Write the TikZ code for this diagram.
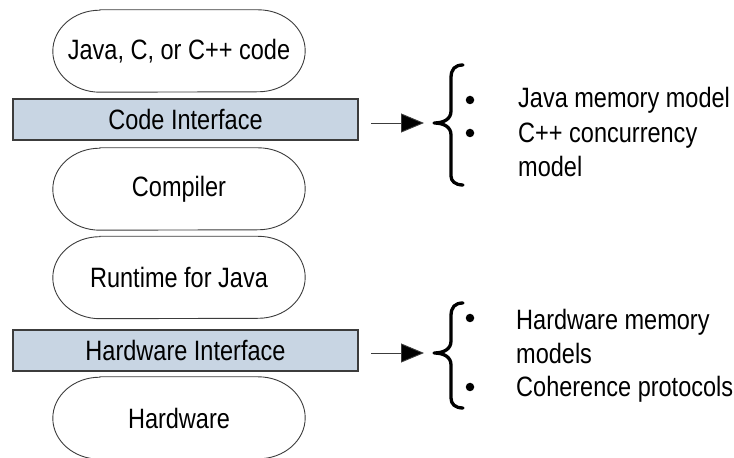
\documentclass[tikz,border=0pt]{standalone}
\usepackage{fontspec}
\setmainfont{Liberation Sans}[FakeStretch=0.84]
\usetikzlibrary{arrows.meta}
\definecolor{ifacefill}{RGB}{200,213,227}
\definecolor{edgegray}{RGB}{60,60,60}

% pill-shaped layer box with elliptical ends
\newcommand{\pillbox}[1]{%
  \draw[pillline] ([xshift=47pt]#1.north west) -- ([xshift=-47pt]#1.north east)
    arc[start angle=90, end angle=-90, x radius=47pt, y radius=41pt]
    -- ([xshift=47pt]#1.south west)
    arc[start angle=270, end angle=90, x radius=47pt, y radius=41pt] -- cycle;}

\tikzset{
  layer/.style={minimum width=252pt, minimum height=82pt, inner sep=0pt,
    font=\fontsize{28}{32}\selectfont},
  pillline/.style={draw=edgegray, line width=0.9pt},
  iface/.style={draw=edgegray, fill=ifacefill, line width=1.1pt,
    minimum width=345pt, minimum height=41pt, inner sep=0pt,
    font=\fontsize{28}{32}\selectfont},
  pointer/.style={draw=edgegray, line width=0.9pt,
    -{Triangle[length=23pt,width=19pt,fill=black]}},
  bracestroke/.style={draw=black, line width=3.3pt, line cap=round, line join=round},
  itemtext/.style={anchor=base west, inner sep=0pt,
    font=\fontsize{28}{32}\selectfont},
  dot/.style={circle, fill=black, inner sep=0pt, minimum size=8.5pt}
}

\begin{document}
\begin{tikzpicture}[x=1pt, y=1pt]
\useasboundingbox (0,0) rectangle (734,458);
\clip (0,0) rectangle (734,458);

% software/hardware stack
\node[layer] (src) at (179,407) {Java, C, or C++ code};
\pillbox{src}
\node[iface] (codeif) at (185.5,338.5) {Code Interface};
\node[layer] (comp) at (179,269) {Compiler};
\pillbox{comp}
\node[layer] (rt) at (179,180.5) {Runtime for Java};
\pillbox{rt}
\node[iface] (hwif) at (185.5,107.5) {Hardware Interface};
\node[layer] (hw) at (179,40) {Hardware};
\pillbox{hw}

% arrows to the braces
\coordinate (codestart) at (371,335);
\coordinate (codetip) at (424,335);
\coordinate (hwstart) at (371,105);
\coordinate (hwtip) at (424,105);
\draw[pointer] (codestart) -- (codetip);
\draw[pointer] (hwstart) -- (hwtip);

% curly braces
\draw[bracestroke] (463,393) .. controls (455,393) and (451,389) .. (451,380)
  -- (451,347) .. controls (451,339) and (444,335) .. (434,335)
  .. controls (444,335) and (451,331) .. (451,323)
  -- (451,282) .. controls (451,277) and (455,273) .. (463,273);
\draw[bracestroke] (463,155) .. controls (455,155) and (451,151) .. (451,142)
  -- (451,117) .. controls (451,109) and (444,105) .. (434,105)
  .. controls (444,105) and (451,101) .. (451,93)
  -- (451,60) .. controls (451,54) and (455,50) .. (463,50);

% bulleted items for the code interface
\node[dot] (b1) at (470,358) {};
\node[dot] (b2) at (470,325) {};
\node[itemtext] (t1) at (518,350) {Java memory model};
\node[itemtext] (t2) at (518,315.5) {C++ concurrency};
\node[itemtext] (t3) at (518,281) {model};

% bulleted items for the hardware interface
\node[dot] (b3) at (470,140) {};
\node[dot] (b4) at (470,71) {};
\node[itemtext] (t4) at (516,128) {Hardware memory};
\node[itemtext] (t5) at (516,94.5) {models};
\node[itemtext] (t6) at (516,61) {Coherence protocols};
\end{tikzpicture}
\end{document}
